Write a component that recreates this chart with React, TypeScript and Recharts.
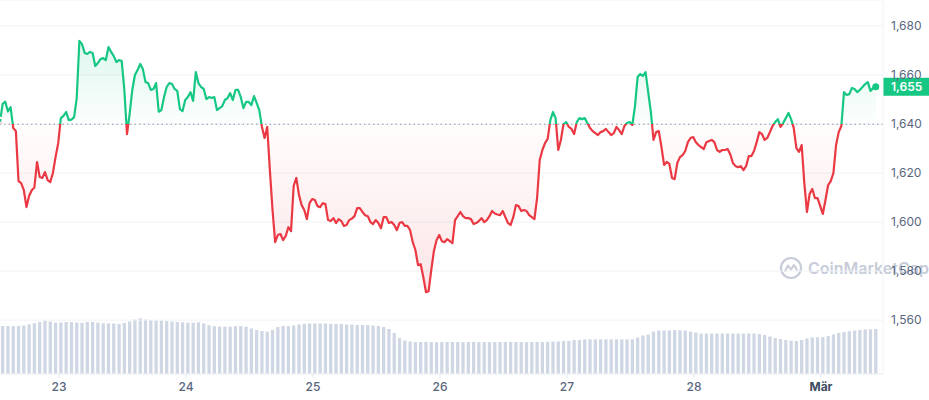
import React from 'react';
import {
  ComposedChart,
  BarChart,
  Bar,
  Area,
  Line,
  XAxis,
  YAxis,
  CartesianGrid,
  ReferenceLine,
  ReferenceDot,
} from 'recharts';

// ---- data ----
// price samples every 30 minutes (hours since start of window)
const priceStepHours = 0.5;
const prices: number[] = [
  1640.9, 1648.2, 1649.1, 1645.1, 1646.9, 1638.4, 1637.1, 1616.7, 1615.9, 1613.0,
  1606.1, 1610.6, 1613.0, 1614.1, 1624.5, 1618.4, 1618.0, 1620.4, 1617.1, 1616.3,
  1620.0, 1626.5, 1632.2, 1642.4, 1643.3, 1644.9, 1641.6, 1641.8, 1642.8, 1650.6,
  1673.9, 1672.6, 1669.0, 1668.6, 1669.4, 1669.0, 1663.7, 1664.9, 1666.5, 1666.9,
  1666.1, 1671.4, 1669.4, 1667.7, 1665.3, 1666.1, 1665.7, 1653.9, 1635.9, 1644.1,
  1653.9, 1660.0, 1662.0, 1664.5, 1662.4, 1657.1, 1656.7, 1653.9, 1654.3, 1656.7,
  1645.0, 1645.7, 1651.0, 1655.1, 1656.7, 1656.3, 1654.3, 1653.5, 1646.1, 1645.3,
  1649.8, 1651.0, 1653.0, 1649.4, 1661.2, 1656.7, 1655.1, 1654.3, 1650.2, 1651.0,
  1650.6, 1651.0, 1645.7, 1646.5, 1647.3, 1649.8, 1650.6, 1652.6, 1649.8, 1653.9,
  1653.9, 1651.0, 1646.5, 1649.0, 1649.0, 1647.7, 1651.4, 1648.6, 1645.7, 1638.8,
  1634.3, 1638.8, 1621.2, 1604.9, 1591.8, 1594.7, 1595.1, 1592.6, 1594.3, 1597.9,
  1596.3, 1614.7, 1618.0, 1611.0, 1606.9, 1604.9, 1601.2, 1607.7, 1609.4, 1609.0,
  1606.5, 1606.1, 1607.7, 1607.3, 1600.8, 1600.4, 1601.6, 1599.6, 1601.2, 1600.4,
  1598.4, 1598.8, 1600.8, 1601.4, 1602.4, 1605.7, 1605.7, 1604.1, 1602.8, 1602.4,
  1600.0, 1599.2, 1600.8, 1599.6, 1597.5, 1602.0, 1602.0, 1599.6, 1600.0, 1598.8,
  1596.7, 1599.6, 1600.0, 1598.4, 1598.4, 1596.7, 1591.8, 1588.6, 1582.4, 1582.8,
  1577.5, 1571.4, 1571.8, 1580.4, 1588.2, 1592.6, 1594.7, 1592.2, 1591.8, 1593.0,
  1592.2, 1591.4, 1600.8, 1602.4, 1604.1, 1602.4, 1601.6, 1601.6, 1601.2, 1599.2,
  1599.6, 1600.4, 1601.6, 1600.0, 1600.8, 1602.4, 1604.5, 1603.5, 1603.1, 1602.8,
  1604.5, 1602.0, 1599.6, 1598.8, 1602.0, 1606.9, 1606.5, 1604.5, 1604.9, 1604.5,
  1602.8, 1602.0, 1601.2, 1609.8, 1625.3, 1629.4, 1632.2, 1633.9, 1641.6, 1644.9,
  1642.4, 1629.4, 1633.5, 1640.0, 1640.8, 1638.8, 1638.0, 1635.9, 1640.8, 1642.4,
  1642.0, 1642.4, 1640.4, 1638.4, 1637.1, 1636.3, 1635.5, 1636.7, 1637.1, 1638.0,
  1636.7, 1635.5, 1636.3, 1638.8, 1637.5, 1635.9, 1639.2, 1640.4, 1640.8, 1639.6,
  1647.3, 1659.2, 1660.4, 1659.6, 1661.2, 1653.0, 1644.9, 1633.5, 1636.7, 1637.1,
  1630.6, 1623.3, 1624.5, 1623.7, 1618.0, 1617.5, 1624.1, 1626.5, 1627.3, 1629.0,
  1632.6, 1634.3, 1634.7, 1632.6, 1631.4, 1630.6, 1629.8, 1632.6, 1633.1, 1633.5,
  1632.6, 1629.4, 1628.6, 1629.4, 1629.4, 1629.8, 1627.7, 1624.1, 1622.8, 1622.4,
  1622.8, 1621.2, 1622.8, 1626.9, 1626.9, 1629.0, 1632.6, 1636.7, 1635.9, 1633.5,
  1634.3, 1636.7, 1639.2, 1640.8, 1642.0, 1638.8, 1640.4, 1642.4, 1644.5, 1642.0,
  1638.4, 1630.2, 1628.6, 1631.4, 1615.9, 1604.1, 1611.4, 1613.5, 1609.8, 1609.8,
  1606.5, 1603.3, 1609.0, 1615.1, 1616.7, 1620.0, 1631.4, 1636.7, 1639.2, 1653.0,
  1651.8, 1652.2, 1654.7, 1654.3, 1653.0, 1653.9, 1655.1, 1656.3, 1657.1, 1653.5,
  1654.7, 1655.2,
];

// hourly volume (billions USD)
const volumes: number[] = [
  4.36, 4.36, 4.36, 4.36, 4.41, 4.52, 4.61, 4.73, 4.86, 4.77,
  4.66, 4.68, 4.73, 4.73, 4.68, 4.66, 4.73, 4.73, 4.68, 4.61,
  4.61, 4.59, 4.55, 4.64, 4.77, 4.95, 5.07, 4.95, 4.88, 4.85,
  4.86, 4.82, 4.77, 4.73, 4.70, 4.66, 4.66, 4.70, 4.59, 4.43,
  4.34, 4.30, 4.30, 4.30, 4.34, 4.36, 4.30, 4.14, 4.00, 3.91,
  3.85, 4.00, 4.27, 4.36, 4.36, 4.41, 4.50, 4.55, 4.59, 4.59,
  4.59, 4.59, 4.55, 4.55, 4.55, 4.50, 4.50, 4.45, 4.45, 4.45,
  4.41, 4.36, 4.27, 4.09, 3.73, 3.27, 3.05, 2.95, 2.91, 2.90,
  2.92, 2.91, 2.89, 2.90, 2.92, 2.91, 2.90, 2.89, 2.91, 2.92,
  2.90, 2.91, 2.89, 2.90, 2.91, 2.92, 2.90, 2.91, 2.90, 2.91,
  2.91, 2.92, 2.91, 2.93, 2.95, 2.95, 3.00, 3.00, 3.09, 3.09,
  3.14, 3.15, 3.15, 3.15, 3.15, 3.15, 3.15, 3.15, 3.15, 3.16,
  3.32, 3.50, 3.59, 3.86, 3.95, 3.95, 3.97, 4.00, 3.97, 3.95,
  3.86, 3.77, 3.68, 3.68, 3.68, 3.68, 3.68, 3.68, 3.68, 3.68,
  3.68, 3.68, 3.68, 3.64, 3.55, 3.41, 3.27, 3.18, 3.09, 3.03,
  3.00, 3.09, 3.23, 3.32, 3.34, 3.36, 3.45, 3.59, 3.73, 3.82,
  3.88, 3.94, 4.00, 4.05, 4.06, 4.09,
];

const openPrice = 1639.9;
const dayTickHours = [11.15, 35.15, 59.15, 83.15, 107.15, 131.15, 155.15];
const dayTickLabels = ['23', '24', '25', '26', '27', '28', 'Mär'];
const priceTicks = [1560, 1580, 1600, 1620, 1640, 1660, 1680];
const xDomain: [number, number] = [0, 166.87];
const priceDomain: [number, number] = [1538, 1690.6];
const volumeDomain: [number, number] = [0, 34];

// ---- derived tables ----
const priceData = prices.map((p, i) => ({ t: i * priceStepHours, price: p }));
const volumeData = volumes.map((v, i) => ({ t: i + 0.5, vol: v }));
const lastPoint = priceData[priceData.length - 1];
const maxP = Math.max(...prices);
const minP = Math.min(...prices);
const splitOffset = (maxP - openPrice) / (maxP - minP);

const GREEN = '#16c784';
const RED = '#ea3943';
const AXIS_TEXT = '#58667e';
const FONT = 'Inter, "Noto Sans", sans-serif';

const fmt = (v: number) =>
  Math.floor(v).toLocaleString('en-US', { maximumFractionDigits: 0 });

const XTick = (props: any) => {
  const { x, y, payload } = props;
  const idx = dayTickHours.indexOf(payload.value);
  const label = idx >= 0 ? dayTickLabels[idx] : '';
  const isMonth = label === 'Mär';
  return (
    <text
      x={x}
      y={y}
      dy="0.71em"
      textAnchor="middle"
      fill={isMonth ? '#3d4a5f' : AXIS_TEXT}
      fontSize={12}
      fontWeight={isMonth ? 700 : 500}
      fontFamily={FONT}
    >
      {label}
    </text>
  );
};

const PriceBadge = (props: any) => {
  const vb = props.viewBox || {};
  const x = (vb.x || 0) + (vb.width || 0);
  const y = vb.y || 0;
  return (
    <g>
      <rect x={x} y={y - 9} width={46} height={18} fill={GREEN} />
      <text
        x={x + 8}
        y={y}
        dy="0.355em"
        fill="#ffffff"
        fontSize={12}
        fontWeight={600}
        fontFamily={FONT}
      >
        {fmt(lastPoint.price)}
      </text>
    </g>
  );
};

const Watermark = () => (
  <div
    style={{
      position: 'absolute',
      left: 779,
      top: 256,
      width: 150,
      display: 'flex',
      alignItems: 'center',
      gap: 5,
      whiteSpace: 'nowrap',
      pointerEvents: 'none',
    }}
  >
    <svg width={24} height={24} viewBox="0 0 24 24" style={{ flex: '0 0 auto' }}>
      <circle cx={12} cy={12} r={10} fill="none" stroke="#c6ccd8" strokeWidth={2.2} />
      <path
        d="M6 15 L9 9.5 L12 13.5 L15 9 L18 14"
        fill="none"
        stroke="#c6ccd8"
        strokeWidth={2}
        strokeLinecap="round"
        strokeLinejoin="round"
      />
    </svg>
    <span
      style={{
        fontFamily: FONT,
        fontSize: 16,
        fontWeight: 600,
        color: '#c6ccd8',
        lineHeight: '24px',
        flex: '0 0 auto',
      }}
    >
      CoinMarketCap
    </span>
  </div>
);

export default function App() {
  return (
    <div
      style={{
        position: 'absolute',
        left: 0,
        top: 0,
        width: 929,
        height: 400,
        background: '#ffffff',
        overflow: 'hidden',
      }}
    >
      <div style={{ position: 'absolute', left: 0, top: 0 }}>
        <BarChart
          width={929}
          height={400}
          data={volumeData}
          margin={{ top: 0, right: 46, bottom: 26, left: 0 }}
        >
          <XAxis dataKey="t" type="number" domain={xDomain} hide allowDataOverflow />
          <YAxis domain={volumeDomain} hide allowDataOverflow />
          <Bar dataKey="vol" fill="#cfd6e4" barSize={3.3} isAnimationActive={false} />
        </BarChart>
      </div>
      <Watermark />
      <div style={{ position: 'absolute', left: 0, top: 0 }}>
        <ComposedChart
          width={929}
          height={400}
          data={priceData}
          margin={{ top: 0, right: 0, bottom: 0, left: 0 }}
        >
          <defs>
            <linearGradient id="lineSplit" x1="0" y1="0" x2="0" y2="1">
              <stop offset={splitOffset} stopColor={GREEN} />
              <stop offset={splitOffset} stopColor={RED} />
            </linearGradient>
            <linearGradient id="fillSplit" x1="0" y1="0" x2="0" y2="1">
              <stop offset={0} stopColor={GREEN} stopOpacity={0.24} />
              <stop offset={splitOffset} stopColor={GREEN} stopOpacity={0.02} />
              <stop offset={splitOffset} stopColor={RED} stopOpacity={0.02} />
              <stop offset={1} stopColor={RED} stopOpacity={0.22} />
            </linearGradient>
          </defs>
          <CartesianGrid vertical={false} stroke="#eff2f5" />
          <XAxis
            dataKey="t"
            type="number"
            domain={xDomain}
            ticks={dayTickHours}
            tick={<XTick />}
            tickSize={4}
            tickMargin={4}
            height={26}
            axisLine={{ stroke: '#eff2f5' }}
            tickLine={{ stroke: '#e3e7ee' }}
            allowDataOverflow
          />
          <YAxis
            orientation="right"
            domain={priceDomain}
            ticks={priceTicks}
            width={46}
            axisLine={{ stroke: '#eff2f5' }}
            tickLine={false}
            tickFormatter={(v: number) => v.toLocaleString('en-US')}
            tick={{ fill: AXIS_TEXT, fontSize: 12, fontFamily: FONT }}
            allowDataOverflow
          />
          <ReferenceLine
            y={openPrice}
            stroke="#8a92a6"
            strokeDasharray="1.5 3"
            strokeWidth={1}
          />
          <Area
            type="linear"
            dataKey="price"
            baseValue={openPrice}
            stroke="none"
            fill="url(#fillSplit)"
            isAnimationActive={false}
          />
          <Line
            type="linear"
            dataKey="price"
            stroke="url(#lineSplit)"
            strokeWidth={2.2}
            strokeLinejoin="round"
            dot={false}
            activeDot={false}
            isAnimationActive={false}
          />
          <ReferenceDot
            x={lastPoint.t}
            y={lastPoint.price}
            r={3.5}
            fill={GREEN}
            stroke="none"
          />
          <ReferenceLine
            y={lastPoint.price}
            stroke="none"
            label={<PriceBadge />}
          />
        </ComposedChart>
      </div>
    </div>
  );
}
